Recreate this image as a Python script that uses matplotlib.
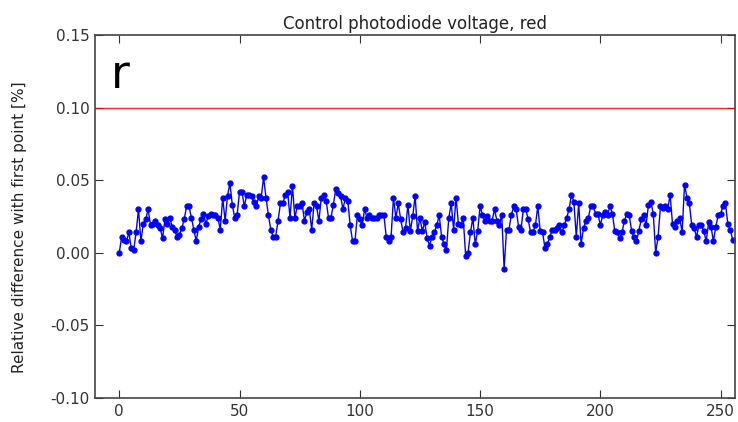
import matplotlib
matplotlib.use('Agg')
import matplotlib.pyplot as plt
import numpy as np

'''
Data read off the reference chart
'''
rel_diff = [
    0.000, 0.011, 0.009, 0.008, 0.014, 0.003, 0.002, 0.014, 0.030, 0.008,
    0.020, 0.023, 0.030, 0.019, 0.020, 0.022, 0.019, 0.017, 0.010, 0.023,
    0.020, 0.024, 0.018, 0.016, 0.011, 0.012, 0.017, 0.023, 0.032, 0.032,
    0.024, 0.016, 0.008, 0.018, 0.023, 0.027, 0.020, 0.025, 0.027, 0.026,
    0.026, 0.024, 0.016, 0.038, 0.022, 0.039, 0.048, 0.033, 0.024, 0.026,
    0.042, 0.042, 0.032, 0.040, 0.040, 0.039, 0.035, 0.032, 0.039, 0.038,
    0.052, 0.038, 0.026, 0.016, 0.011, 0.011, 0.022, 0.034, 0.034, 0.040,
    0.042, 0.024, 0.046, 0.024, 0.032, 0.032, 0.034, 0.022, 0.028, 0.030,
    0.016, 0.034, 0.032, 0.022, 0.038, 0.040, 0.036, 0.024, 0.024, 0.033,
    0.044, 0.041, 0.039, 0.030, 0.038, 0.036, 0.019, 0.008, 0.008, 0.026,
    0.023, 0.019, 0.030, 0.024, 0.026, 0.024, 0.024, 0.024, 0.026, 0.026,
    0.026, 0.011, 0.008, 0.011, 0.038, 0.024, 0.034, 0.023, 0.014, 0.017,
    0.033, 0.015, 0.025, 0.039, 0.015, 0.024, 0.015, 0.021, 0.010, 0.005,
    0.011, 0.014, 0.019, 0.026, 0.011, 0.006, 0.002, 0.024, 0.034, 0.016,
    0.038, 0.020, 0.019, 0.024, -0.002, 0.000, 0.014, 0.024, 0.006, 0.015,
    0.032, 0.026, 0.022, 0.025, 0.022, 0.022, 0.030, 0.022, 0.019, 0.026,
    -0.011, 0.016, 0.016, 0.026, 0.032, 0.030, 0.018, 0.016, 0.030, 0.030,
    0.023, 0.014, 0.014, 0.019, 0.032, 0.015, 0.014, 0.003, 0.006, 0.011,
    0.016, 0.016, 0.017, 0.019, 0.014, 0.019, 0.024, 0.030, 0.040, 0.035,
    0.011, 0.034, 0.006, 0.017, 0.022, 0.024, 0.032, 0.032, 0.027, 0.027,
    0.019, 0.026, 0.028, 0.026, 0.032, 0.027, 0.015, 0.014, 0.010, 0.014,
    0.022, 0.027, 0.026, 0.015, 0.011, 0.008, 0.015, 0.023, 0.026, 0.019,
    0.033, 0.035, 0.027, 0.000, 0.011, 0.032, 0.031, 0.032, 0.030, 0.040,
    0.020, 0.018, 0.022, 0.024, 0.014, 0.047, 0.038, 0.034, 0.019, 0.017,
    0.011, 0.019, 0.019, 0.015, 0.008, 0.021, 0.018, 0.008, 0.018, 0.026,
    0.027, 0.032, 0.034, 0.020, 0.016, 0.009,
]
threshold = 0.10
x_ticks = [0, 50, 100, 150, 200, 250]
y_ticks = [-0.10, -0.05, 0.00, 0.05, 0.10, 0.15]

x = np.arange(len(rel_diff))

fig = plt.figure(figsize=(7.38, 4.22), dpi=100)
ax = fig.add_axes([0.129, 0.057, 0.867, 0.860])

ax.axhline(threshold, color='red', lw=1.0, alpha=0.85)
ax.plot(x, rel_diff, color='blue', marker='o', markersize=3.5, lw=1.0,
        markeredgecolor='blue')

ax.set_xlim(-10, 256)
ax.set_ylim(-0.10, 0.15)
ax.set_xticks(x_ticks)
ax.set_yticks(y_ticks)
ax.set_yticklabels(['%.2f' % v for v in y_ticks])

ax.tick_params(direction='in', top=True, right=True, length=6,
               labelsize=11, colors='#333333', pad=4)
for s in ax.spines.values():
    s.set_color('#444444')
    s.set_linewidth(1.2)

ax.set_title('Control photodiode voltage, red', fontsize=12, color='#222222', pad=4)
ax.set_ylabel('Relative difference with first point [%]', fontsize=11, color='#222222')
ax.yaxis.set_label_coords(-0.106, 0.47)
ax.text(0.025, 0.95, 'r', transform=ax.transAxes, fontsize=33,
        va='top', ha='left', color='black')

fig.savefig('out.png', dpi=100)
